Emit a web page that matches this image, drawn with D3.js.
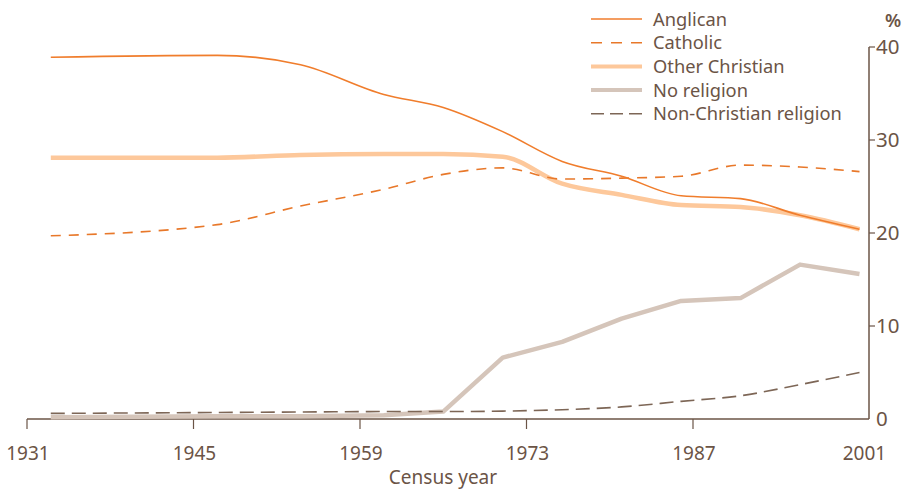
<!DOCTYPE html>
<html>
<head>
<meta charset="utf-8">
<script src="https://cdn.jsdelivr.net/npm/d3@7"></script>
<style>
  body { margin: 0; background: #fff; }
  svg text { font-family: "Noto Sans", "Open Sans", sans-serif; fill: #6b5446; }
</style>
</head>
<body>
<svg id="chart" width="913" height="490"></svg>
<script>
const years = [1933, 1947, 1954, 1961, 1966, 1971, 1976, 1981, 1986, 1991, 1996, 2001];
const anglican      = [38.9, 39.1, 38.1, 34.9, 33.5, 30.9, 27.7, 26.1, 24.0, 23.7, 21.9, 20.4];
const catholic      = [19.7, 20.9, 22.9, 24.7, 26.3, 27.0, 25.8, 25.9, 26.1, 27.3, 27.1, 26.6];
const otherChristian= [28.1, 28.1, 28.4, 28.5, 28.5, 28.2, 25.3, 24.1, 23.0, 22.8, 21.9, 20.4];
const noReligion    = [0.2, 0.3, 0.3, 0.4, 0.8, 6.6, 8.3, 10.8, 12.7, 13.0, 16.6, 15.6];
const nonChristian  = [0.6, 0.7, 0.75, 0.8, 0.8, 0.85, 1.0, 1.3, 1.9, 2.5, 3.7, 5.0];
const xTicks = [1931, 1945, 1959, 1973, 1987, 2001];
const yTicks = [0, 10, 20, 30, 40];
const seriesNames = ["Anglican", "Catholic", "Other Christian", "No religion", "Non-Christian religion"];

const series = [
  { name: seriesNames[0], values: anglican, color: "#f07d2c", width: 1.6, dash: null, curve: d3.curveMonotoneX },
  { name: seriesNames[1], values: catholic, color: "#e8782a", width: 1.6, dash: "10,8", curve: d3.curveMonotoneX },
  { name: seriesNames[2], values: otherChristian, color: "#fdc89b", width: 4.5, dash: null, curve: d3.curveMonotoneX },
  { name: seriesNames[3], values: noReligion, color: "#d5c5ba", width: 4.5, dash: null, curve: d3.curveLinear },
  { name: seriesNames[4], values: nonChristian, color: "#7d6656", width: 1.6, dash: "14,7", curve: d3.curveMonotoneX }
];

const svg = d3.select("#chart");
const axisColor = "#6b5446";
const x = d3.scaleLinear().domain([1931, 2001]).range([27, 859.5]);
const y = d3.scaleLinear().domain([0, 40]).range([419, 47]);
const axisX = 869;

// x axis
const xAxis = svg.append("g").attr("transform", `translate(0,${y(0)})`);
xAxis.append("line").attr("x1", x(1931)).attr("x2", axisX).attr("y1", 0).attr("y2", 0)
  .attr("stroke", axisColor).attr("stroke-width", 1.5);
xAxis.selectAll("line.tick").data(xTicks.slice(0, -1)).enter().append("line")
  .attr("class", "tick")
  .attr("x1", d => x(d)).attr("x2", d => x(d)).attr("y1", 0).attr("y2", 10)
  .attr("stroke", axisColor).attr("stroke-width", 1.2);
xAxis.selectAll("text").data(xTicks).enter().append("text")
  .attr("x", (d, i) => i === xTicks.length - 1 ? x(d) + 5 : x(d) + 1)
  .attr("y", 41)
  .attr("text-anchor", "middle")
  .attr("font-size", 19)
  .text(d => d);

svg.append("text").attr("x", 443).attr("y", 484).attr("text-anchor", "middle")
  .attr("font-size", 19).text("Census year");

// y axis
const yAxis = svg.append("g");
yAxis.append("line").attr("x1", axisX).attr("x2", axisX).attr("y1", y(40)).attr("y2", y(0))
  .attr("stroke", axisColor).attr("stroke-width", 1.5);
yAxis.selectAll("line.tick").data(yTicks.slice(1)).enter().append("line")
  .attr("class", "tick")
  .attr("x1", axisX).attr("x2", axisX + 6).attr("y1", d => y(d)).attr("y2", d => y(d))
  .attr("stroke", axisColor).attr("stroke-width", 1.2);
yAxis.selectAll("text").data(yTicks).enter().append("text")
  .attr("x", axisX + 7)
  .attr("y", d => y(d))
  .attr("dy", "0.36em")
  .attr("font-size", 20.5)
  .text(d => d);
svg.append("text").attr("x", 893).attr("y", 27).attr("text-anchor", "middle")
  .attr("font-size", 18.5).attr("font-weight", 600).text("%");

// lines (draw order: thick first, then thin)
const order = [2, 3, 4, 1, 0];
order.forEach(i => {
  const s = series[i];
  const line = d3.line().x((d, j) => x(years[j])).y(d => y(d)).curve(s.curve);
  svg.append("path").datum(s.values)
    .attr("d", line)
    .attr("fill", "none")
    .attr("stroke", s.color)
    .attr("stroke-width", s.width)
    .attr("stroke-dasharray", s.dash)
    .attr("stroke-linejoin", "round");
});

// legend
const legend = svg.append("g");
series.forEach((s, i) => {
  const ly = 19 + i * 23.7;
  legend.append("line").attr("x1", 591).attr("x2", 642).attr("y1", ly).attr("y2", ly)
    .attr("stroke", s.color).attr("stroke-width", s.width === 1.6 ? 1.6 : 4)
    .attr("stroke-dasharray", s.dash ? (i === 1 ? "11,9" : "13,6") : null);
  legend.append("text").attr("x", 653).attr("y", ly).attr("dy", "0.36em")
    .attr("font-size", 18.3).text(s.name);
});
</script>
</body>
</html>
